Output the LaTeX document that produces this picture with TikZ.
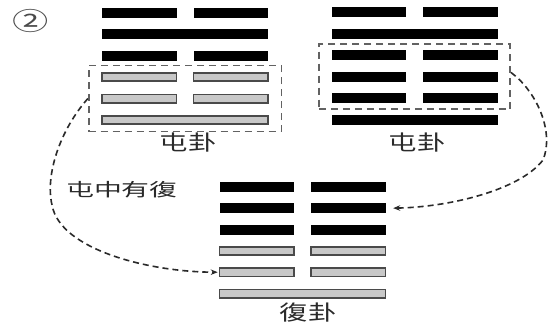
\documentclass[tikz,border=0pt]{standalone}
\usepackage{fontspec}
\newfontfamily\cjk{Noto Sans CJK TC}
\usetikzlibrary{fit,arrows.meta}
\definecolor{barfill}{HTML}{C8C8C8}
\definecolor{bardraw}{HTML}{4A4A4A}
\definecolor{boxdraw}{HTML}{626262}
\definecolor{conncol}{HTML}{2A2A2A}
\definecolor{txtcol}{HTML}{2A2A2A}
\tikzset{
  blk/.style={fill=black, draw=none, inner sep=0pt, minimum height=10pt},
  gry/.style={fill=barfill, draw=bardraw, line width=1.6pt, inner sep=0pt, minimum height=8.4pt},
  grpbox/.style={draw=boxdraw, line width=1.6pt, dash pattern=on 7pt off 5pt, inner xsep=12.5pt, inner ysep=6.5pt},
  conn/.style={draw=conncol, line width=1.6pt, dash pattern=on 6pt off 4pt, -{Stealth[length=7pt,width=5.5pt]}},
  lab/.style={font=\cjk\fontsize{21}{21}\selectfont, text=txtcol, xscale=1.35, inner sep=0pt},
  lab2/.style={font=\cjk\fontsize{18}{18}\selectfont, text=txtcol, xscale=1.55, inner sep=0pt},
  num/.style={font=\cjk\fontsize{25}{25}\selectfont, text=txtcol!85, xscale=1.45, inner sep=0pt}
}
\newcommand\hexyin[4]{%
  \node[#4, minimum width=74.5pt] (#1l) at (#2+37.25,#3) {};
  \node[#4, minimum width=74.5pt] (#1r) at (#2+128.75,#3) {};}
\newcommand\hexyang[4]{%
  \node[#4, minimum width=166pt] (#1) at (#2+83,#3) {};}
\begin{document}
\begin{tikzpicture}[x=1pt,y=-1pt]
\useasboundingbox (0,0) rectangle (552,327);
\fill[white] (0,0) rectangle (552,327);
% left hexagram
\hexyin{a1}{102}{12.5}{blk}
\hexyang{a2}{102}{34}{blk}
\hexyin{a3}{102}{55.5}{blk}
\hexyin{a4}{102}{77}{gry}
\hexyin{a5}{102}{98.5}{gry}
\hexyang{a6}{102}{120}{gry}
\node[grpbox, fit=(a4l)(a4r)(a6)] (abox) {};
% right hexagram
\hexyin{b1}{331.5}{12}{blk}
\hexyang{b2}{331.5}{33.5}{blk}
\hexyin{b3}{331.5}{55}{blk}
\hexyin{b4}{331.5}{76.5}{blk}
\hexyin{b5}{331.5}{98}{blk}
\hexyang{b6}{331.5}{119.5}{blk}
\node[grpbox, inner ysep=6pt, fit=(b3l)(b3r)(b5l)] (bbox) {};
% bottom hexagram
\hexyin{c1}{219.5}{187}{blk}
\hexyin{c2}{219.5}{208.3}{blk}
\hexyin{c3}{219.5}{229.6}{blk}
\hexyin{c4}{219.5}{250.9}{gry}
\hexyin{c5}{219.5}{272.2}{gry}
\hexyang{c6}{219.5}{293.5}{gry}
% labels
\node[lab] (la) at (188,143) {屯卦};
\node[lab] (lb) at (417,143) {屯卦};
\node[lab] (lc) at (308,313) {復卦};
\node[lab2] (ld) at (122,190) {屯中有復};
\node[num] (nm) at (30.5,21) {②};
% connectors
\draw[conn, shorten >=1pt] (abox.west) .. controls (60,130) and (45,175) .. (52,205)
   .. controls (60,250) and (150,272) .. (c5l.west);
\draw[conn, shorten >=7.5pt] ([yshift=4pt]bbox.east) .. controls (535,90) and (555,130) .. (543,160)
   .. controls (520,190) and (450,207) .. (c2r.east);
\end{tikzpicture}
\end{document}
